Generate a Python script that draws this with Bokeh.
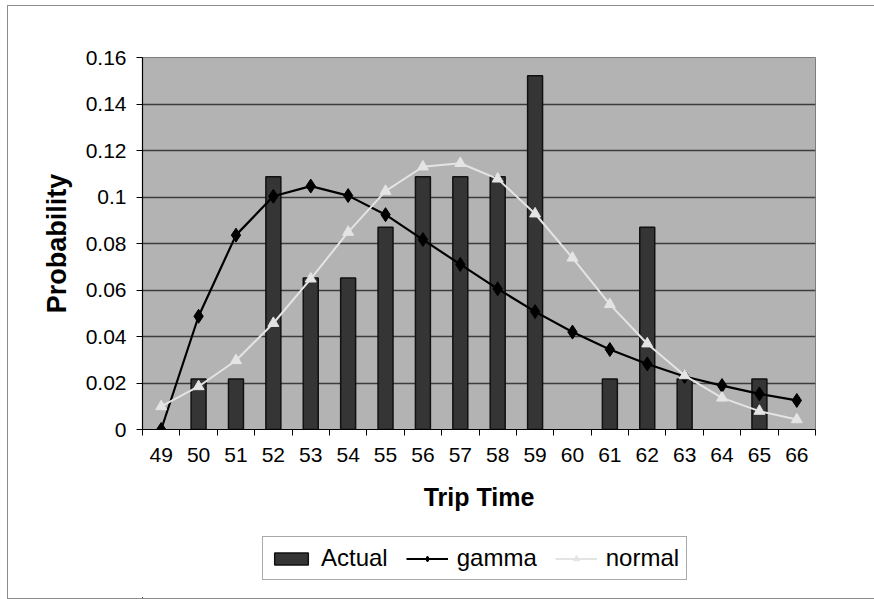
from bokeh.plotting import figure
from bokeh.layouts import column
from bokeh.models import Range1d, FixedTicker, CustomJSTickFormatter, Legend, LegendItem
from bokeh.embed import file_html
from bokeh.resources import INLINE

# Trip time categories (minutes) and the three probability series
trip_time = [49, 50, 51, 52, 53, 54, 55, 56, 57, 58, 59, 60, 61, 62, 63, 64, 65, 66]
actual = [0, 0.0217, 0.0217, 0.1087, 0.0652, 0.0652, 0.0870, 0.1087, 0.1087,
          0.1087, 0.1522, 0, 0.0217, 0.0870, 0.0217, 0, 0.0217, 0]
gamma = [0, 0.0487, 0.0836, 0.1003, 0.1047, 0.1006, 0.0924, 0.0817, 0.0710,
         0.0605, 0.0507, 0.0419, 0.0344, 0.0282, 0.0228, 0.0189, 0.0153, 0.0125]
normal = [0.0099, 0.0185, 0.0297, 0.0457, 0.0648, 0.0849, 0.1025, 0.1130, 0.1145,
          0.1078, 0.0928, 0.0738, 0.0538, 0.0369, 0.0232, 0.0136, 0.0079, 0.0043]
y_ticks = [0, 0.02, 0.04, 0.06, 0.08, 0.1, 0.12, 0.14, 0.16]
series_names = ["Actual", "gamma", "normal"]

FONT = "Liberation Sans"
BAR_FILL, BAR_LINE = "#353535", "#111111"
NORMAL_COLOR = "#e4e4e4"


def draw_series(fig, gamma_size, normal_size):
    """Draw bars and the two fitted curves; returns the renderers per series."""
    bar_x = [t for t, v in zip(trip_time, actual) if v > 0]
    bar_top = [v for v in actual if v > 0]
    r_bar = fig.vbar(x=bar_x, top=bar_top, width=0.4,
                     fill_color=BAR_FILL, line_color=BAR_LINE, line_width=1.5)
    r_gl = fig.line(trip_time, gamma, line_color="black", line_width=2.2)
    r_gp = fig.scatter(trip_time, gamma, marker="diamond", size=gamma_size,
                       fill_color="black", line_color="black")
    r_nl = fig.line(trip_time, normal, line_color=NORMAL_COLOR, line_width=2)
    r_np = fig.scatter(trip_time, normal, marker="triangle", size=normal_size,
                       fill_color=NORMAL_COLOR, line_color=NORMAL_COLOR)
    return [r_bar], [r_gl, r_gp], [r_nl, r_np]


p = figure(width=866, height=524,
           x_range=Range1d(trip_time[0] - 0.5, trip_time[-1] + 0.5),
           y_range=Range1d(y_ticks[0], y_ticks[-1]),
           output_backend="svg", toolbar_location=None,
           min_border_left=134, min_border_right=59,
           min_border_top=51, min_border_bottom=101)

p.background_fill_color = "#b3b3b3"
p.border_fill_color = "white"
p.outline_line_color = "#7d7d7d"
p.outline_line_width = 1

# horizontal gridlines only
p.xgrid.visible = False
p.ygrid.ticker = FixedTicker(ticks=y_ticks)
p.ygrid.grid_line_color = "#3c3c3c"
p.ygrid.grid_line_width = 1.3

# y axis
p.yaxis.ticker = FixedTicker(ticks=y_ticks)
p.yaxis.formatter = CustomJSTickFormatter(code="return String(parseFloat(tick.toFixed(2)));")
p.yaxis.axis_label = "Probability"
p.yaxis.axis_label_text_font = FONT
p.yaxis.axis_label_text_font_style = "bold"
p.yaxis.axis_label_text_font_size = "27px"
p.yaxis.axis_label_standoff = 11
p.yaxis.major_label_text_font = FONT
p.yaxis.major_label_text_font_size = "21px"
p.yaxis.major_label_standoff = 10
p.yaxis.major_tick_out = 6
p.yaxis.major_tick_in = 0
p.yaxis.minor_tick_line_color = None

# x axis: labels at the categories, tick marks between them
p.xaxis.ticker = FixedTicker(ticks=trip_time,
                             minor_ticks=[t - 0.5 for t in trip_time] + [trip_time[-1] + 0.5])
p.xaxis.axis_label = "Trip Time"
p.xaxis.axis_label_text_font = FONT
p.xaxis.axis_label_text_font_style = "bold"
p.xaxis.axis_label_text_font_size = "25px"
p.xaxis.axis_label_standoff = 18
p.xaxis.major_label_text_font = FONT
p.xaxis.major_label_text_font_size = "21px"
p.xaxis.major_label_standoff = 12
p.xaxis.major_tick_line_color = None
p.xaxis.minor_tick_out = 6
p.xaxis.minor_tick_in = 0
p.xaxis.minor_tick_line_color = "black"

for ax in (p.xaxis, p.yaxis):
    ax.axis_line_color = "black"
    ax.axis_line_width = 1.2
    ax.major_label_text_color = "black"
    ax.axis_label_text_color = "black"

draw_series(p, 14, 11)

# legend strip below the chart; its series sit far outside its (empty) view range
leg_fig = figure(width=866, height=68,
                 x_range=Range1d(1000, 1001), y_range=Range1d(1000, 1001),
                 output_backend="svg", toolbar_location=None,
                 x_axis_location=None, y_axis_location=None,
                 min_border_left=134, min_border_right=59,
                 min_border_top=0, min_border_bottom=0)
leg_fig.grid.visible = False
leg_fig.outline_line_color = None
leg_fig.background_fill_color = "white"
leg_fig.border_fill_color = "white"

bar_r, gamma_r, normal_r = draw_series(leg_fig, 10, 9)

legend = Legend(items=[LegendItem(label=series_names[0], renderers=bar_r),
                       LegendItem(label=series_names[1], renderers=gamma_r),
                       LegendItem(label=series_names[2], renderers=normal_r)],
                orientation="horizontal", location=(120, 18))
legend.label_text_font = FONT
legend.label_text_font_size = "24px"
legend.label_text_color = "black"
legend.glyph_width = 42
legend.glyph_height = 15
legend.label_standoff = 9
legend.spacing = 18
legend.padding = 7
legend.margin = 0
legend.border_line_color = "#555555"
legend.border_line_width = 1
legend.background_fill_color = "white"
legend.background_fill_alpha = 1
leg_fig.add_layout(legend, "center")

page = column(p, leg_fig, spacing=0, margin=(5, 0, 0, 7),
              styles={"border-left": "1px solid #8c8c8c",
                      "border-top": "1px solid #8c8c8c",
                      "border-bottom": "1px solid #8c8c8c"})

open("out.html", "w").write(file_html(page, INLINE))
